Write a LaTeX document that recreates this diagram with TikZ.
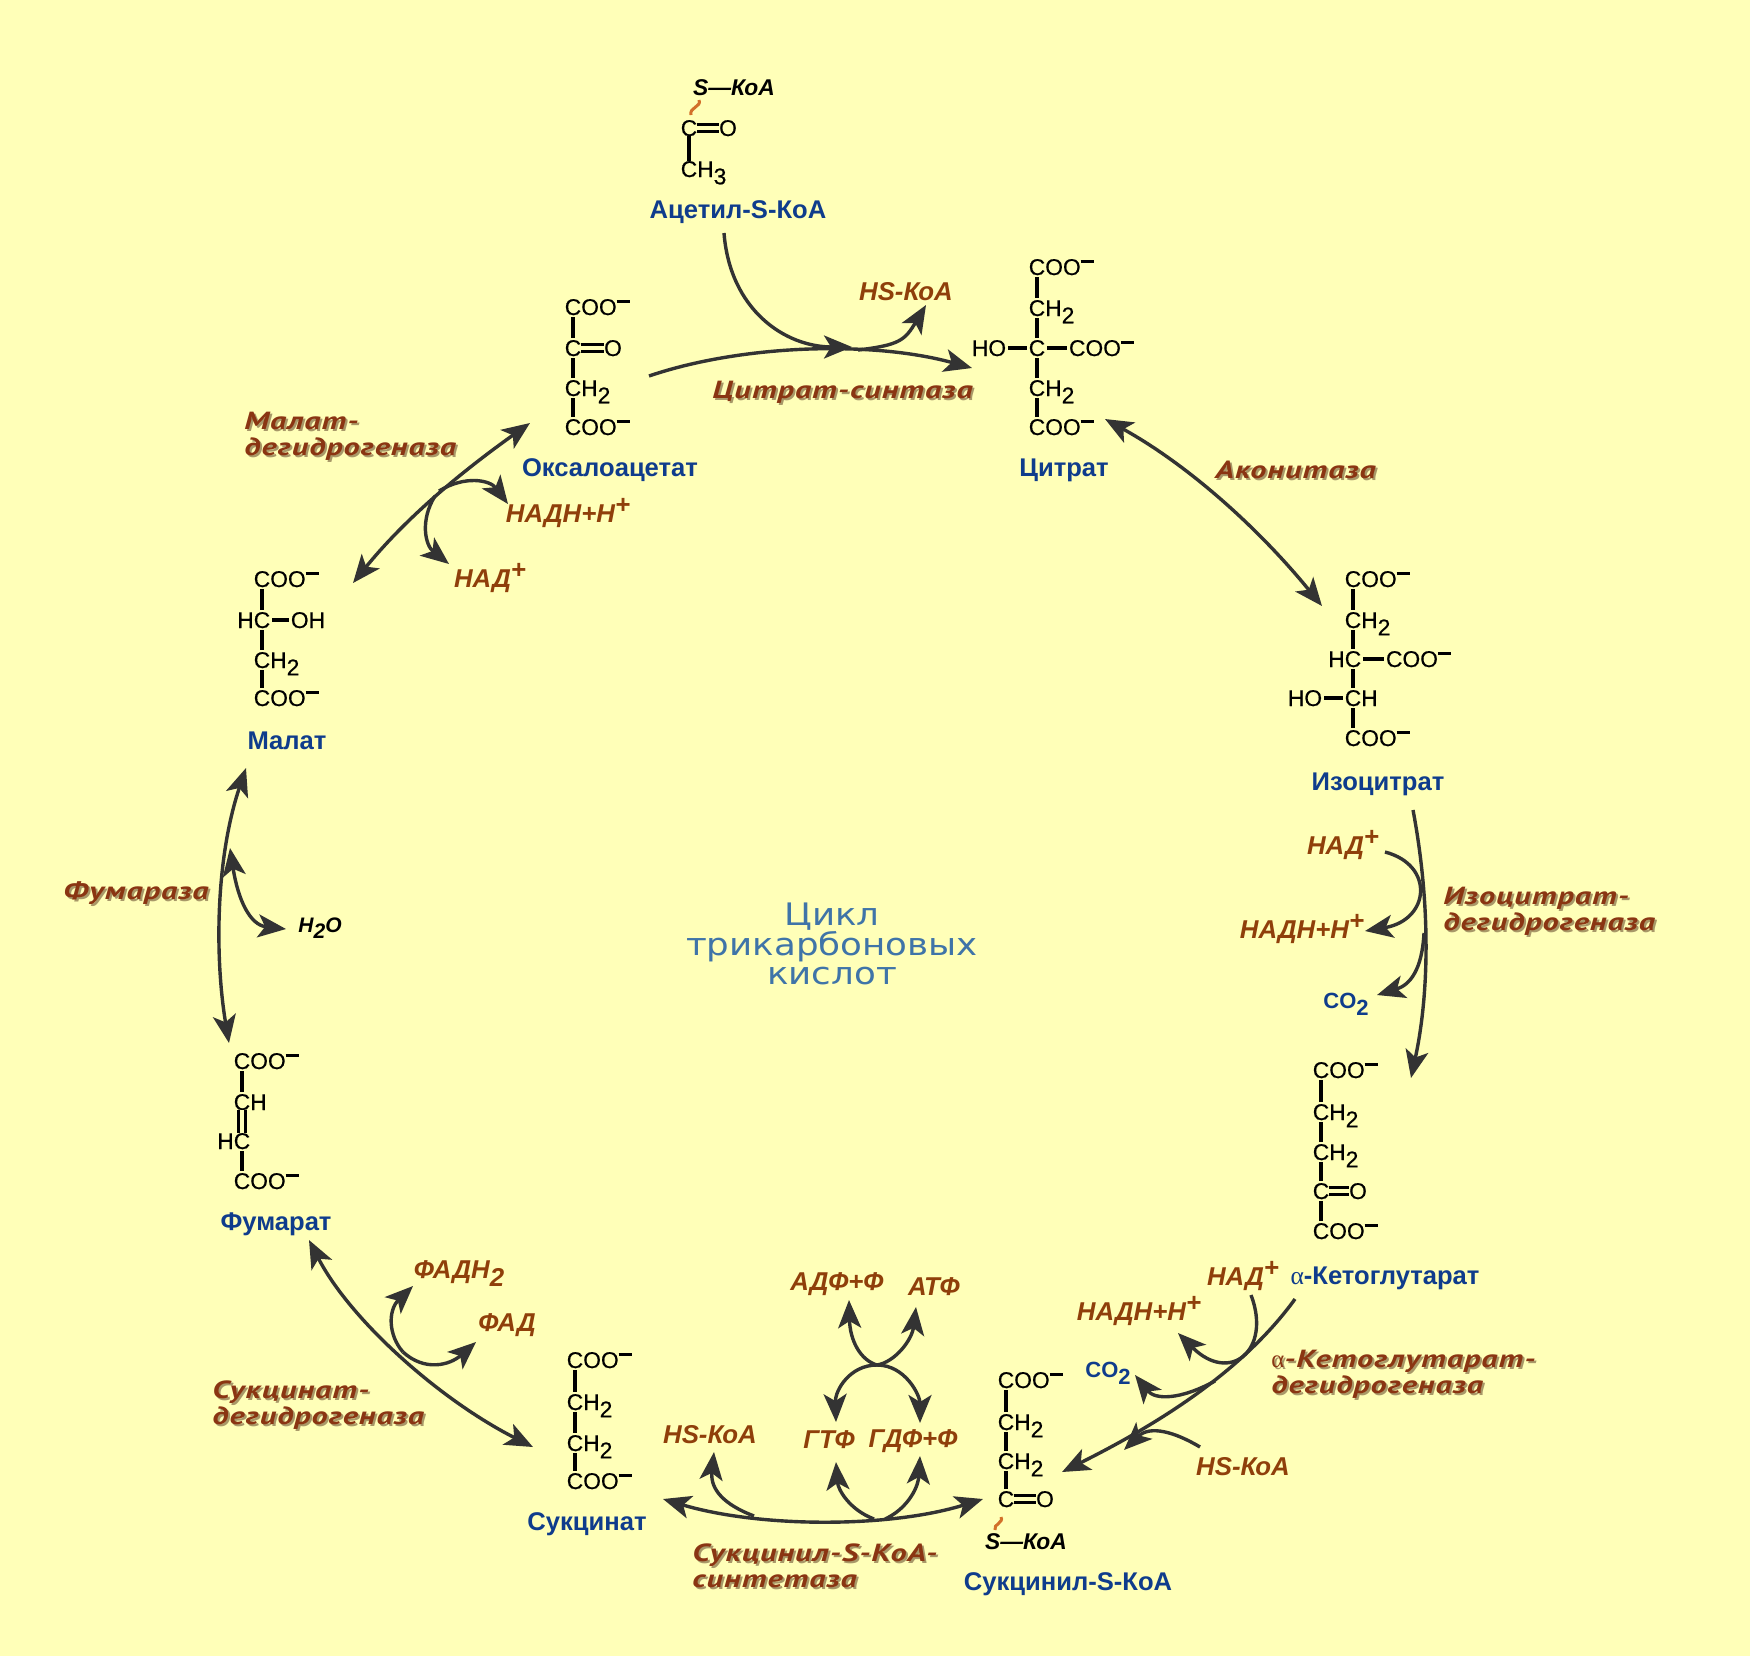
\documentclass[tikz,border=0pt]{standalone}
\usepackage{fontspec}
\usetikzlibrary{arrows.meta}
\setmainfont{Liberation Sans}
\newfontfamily\enzfont[FakeStretch=1.3,LetterSpace=4]{PT Sans}
\newfontfamily\greekfont{Liberation Serif}
\newfontfamily\cyclefont[FakeStretch=1.15]{DejaVu Sans}
\newfontfamily\chemfont[FakeBold=0.5]{Liberation Sans}
\definecolor{bgyellow}{HTML}{FFFFB8}
\definecolor{namblue}{HTML}{0F3C8C}
\definecolor{cofbrown}{HTML}{8F3F0A}
\definecolor{enzbrown}{HTML}{8A3512}
\definecolor{enzshade}{HTML}{A89868}
\definecolor{arrgray}{HTML}{333333}
\definecolor{cycleblue}{HTML}{3F74A8}
\definecolor{squigorange}{HTML}{D2702A}
\newcommand{\chemsub}[1]{\raisebox{-.32em}[0pt][0pt]{#1}}
\newcommand{\chemneg}{\raisebox{.54em}[0pt][0pt]{\rule{.58em}{.11em}}}
\newcommand{\splus}{\raisebox{.36em}[0pt][0pt]{\bfseries +}}
\newcommand{\coo}{C\rlap{OO\chemneg}}
\newcommand{\chtwo}{C\rlap{H\chemsub{2}}}
\newcommand{\enzlabel}[3]{%
  \node[enzyme,text=enzshade] (#1s) at ([shift={(2,2)}]#2) {#3};
  \node[enzyme] (#1) at (#2) {#3};}
\tikzset{
  atom/.style={font=\fontsize{11.4}{11.4}\selectfont\chemfont, inner sep=0pt, outer sep=0pt, text height=8pt, text depth=0pt},
  bond/.style={line width=1.7pt, black},
  dbond/.style={line width=1.4pt, black, double=bgyellow, double distance=2.4pt},
  squig/.style={line width=1.5pt, squigorange},
  coa/.style={font=\fontsize{11.4}{11.4}\selectfont\bfseries\itshape, inner sep=0pt},
  compound/.style={font=\fontsize{12.8}{12.8}\selectfont\bfseries, text=namblue, inner sep=0pt},
  cof/.style={font=\fontsize{12.9}{12.9}\selectfont\bfseries\itshape, text=cofbrown, inner sep=0pt},
  gas/.style={font=\fontsize{11}{11}\selectfont\bfseries, text=namblue, inner sep=0pt},
  enzyme/.style={font=\fontsize{12.4}{13}\selectfont\enzfont\bfseries\itshape, text=enzbrown, inner sep=0pt, anchor=west, align=left},
  arr/.style={line width=1.7pt, arrgray, -{Stealth[length=14pt,width=11.5pt,inset=3.5pt]}},
  biarr/.style={arr, {Stealth[length=14pt,width=11.5pt,inset=3.5pt]}-{Stealth[length=14pt,width=11.5pt,inset=3.5pt]}}
}
\begin{document}
\begin{tikzpicture}[x=0.5pt,y=-0.5pt]
\useasboundingbox (0,0) rectangle (1750,1656);
% Background
\fill[bgyellow] (0,0) rectangle (1750,1656);

% Acetyl-S-CoA
\node[coa] (acs) at (734,88) {S---КоА};
\node[atom] (ac1) at (689,128) {C};
\node[atom] (aco) at (728,128) {O};
\node[atom] (ac2) at (689,169) {C\rlap{H\chemsub{3}}};
\node[compound] (acname) at (738,212) {Ацетил-S-КоА};
\coordinate (acq1) at (699,100);
\coordinate (acq2) at (691,115);
\draw[squig] (acq1) .. controls (702,107) and (689,107) .. (acq2);
\draw[dbond] (ac1) -- (aco);
\draw[bond] (ac1) -- (ac2);

% Citrate
\node[atom] (ci1) at (1037,267) {\coo};
\node[atom] (ci2) at (1037,308) {\chtwo};
\node[atom] (ci3) at (1037,348) {C};
\node[atom] (ci4) at (1037,388) {\chtwo};
\node[atom] (ci5) at (1037,427) {\coo};
\node[atom] (ciho) at (989,348) {HO};
\node[atom,anchor=west] (cicoo) at (1069,348) {COO\chemneg};
\node[compound] (ciname) at (1064,470) {Цитрат};

% Oxaloacetate
\node[atom] (ox1) at (573,307) {\coo};
\node[atom] (ox2) at (573,348) {C};
\node[atom] (oxo) at (613,348) {O};
\node[atom] (ox3) at (573,388) {\chtwo};
\node[atom] (ox4) at (573,427) {\coo};
\node[compound] (oxname) at (610,470) {Оксалоацетат};
\draw[dbond] (ox2) -- (oxo);

% Isocitrate
\node[atom] (is1) at (1353,579) {\coo};
\node[atom] (is2) at (1353,620) {\chtwo};
\node[atom] (is3) at (1353,659) {\llap{H}C};
\node[atom] (is4) at (1353,698) {C\rlap{H}};
\node[atom] (is5) at (1353,738) {\coo};
\node[atom] (isho) at (1305,698) {HO};
\node[atom,anchor=west] (iscoo) at (1386,659) {COO\chemneg};
\node[compound] (isname) at (1378,784) {Изоцитрат};

% alpha-Ketoglutarate
\node[atom] (kg1) at (1321,1070) {\coo};
\node[atom] (kg2) at (1321,1112) {\chtwo};
\node[atom] (kg3) at (1321,1152) {\chtwo};
\node[atom] (kg4) at (1321,1191) {C};
\node[atom] (kgo) at (1358,1191) {O};
\node[atom] (kg5) at (1321,1231) {\coo};
\node[compound] (kgname) at (1385,1278) {{\greekfont\mdseries α}-Кетоглутарат};
\draw[dbond] (kg4) -- (kgo);

% Succinyl-S-CoA
\node[atom] (sc1) at (1006,1380) {\coo};
\node[atom] (sc2) at (1006,1422) {\chtwo};
\node[atom] (sc3) at (1006,1461) {\chtwo};
\node[atom] (sc4) at (1006,1499) {C};
\node[atom] (sco) at (1045,1499) {O};
\node[coa] (scs) at (1026,1542) {S---КоА};
\node[compound] (scname) at (1068,1584) {Сукцинил-S-КоА};
\coordinate (scq1) at (1001,1517);
\coordinate (scq2) at (995,1530);
\draw[squig] (scq1) .. controls (1004,1523) and (993,1524) .. (scq2);
\draw[dbond] (sc4) -- (sco);

% Succinate
\node[atom] (su1) at (575,1360) {\coo};
\node[atom] (su2) at (575,1402) {\chtwo};
\node[atom] (su3) at (575,1443) {\chtwo};
\node[atom] (su4) at (575,1481) {\coo};
\node[compound] (suname) at (587,1524) {Сукцинат};

% Fumarate
\node[atom] (fu1) at (242,1061) {\coo};
\node[atom] (fu2) at (242,1102) {C\rlap{H}};
\node[atom] (fu3) at (242,1141) {\llap{H}C};
\node[atom] (fu4) at (242,1181) {\coo};
\node[compound] (funame) at (276,1224) {Фумарат};
\draw[dbond] (fu2) -- (fu3);

% Malate
\node[atom] (ma1) at (262,579) {\coo};
\node[atom] (ma2) at (262,620) {\llap{H}C};
\node[atom] (ma3) at (262,660) {\chtwo};
\node[atom] (ma4) at (262,698) {\coo};
\node[atom] (maoh) at (308,620) {OH};
\node[compound] (maname) at (287,741) {Малат};

% Single bonds
\foreach \a/\b in {ci1/ci2,ci2/ci3,ci3/ci4,ci4/ci5,ciho/ci3,ci3/cicoo,
  ox1/ox2,ox2/ox3,ox3/ox4,is1/is2,is2/is3,is3/is4,is4/is5,isho/is4,is3/iscoo,
  kg1/kg2,kg2/kg3,kg3/kg4,kg4/kg5,sc1/sc2,sc2/sc3,sc3/sc4,
  su1/su2,su2/su3,su3/su4,fu1/fu2,fu3/fu4,ma1/ma2,ma2/ma3,ma3/ma4,ma2/maoh}
  \draw[bond,shorten <=1pt,shorten >=1pt] (\a) -- (\b);

% Cofactors
\node[cof] (hsa) at (906,292) {HS-КоА};
\node[cof] (nadis) at (1343,848) {НАД\splus};
\node[cof] (nadhis) at (1302,932) {НАДН+Н\splus};
\node[gas] (cois) at (1346,1001) {CO\chemsub{2}};
\node[cof] (nadkg) at (1243,1279) {НАД\splus};
\node[cof] (nadhkg) at (1139,1314) {НАДН+Н\splus};
\node[gas] (cokg) at (1108,1370) {CO\chemsub{2}};
\node[cof] (hskg) at (1243,1467) {HS-КоА};
\node[cof] (adp) at (837,1284) {АДФ+Ф};
\node[cof] (atp) at (934,1287) {АТФ};
\node[cof] (gtp) at (829,1440) {ГТФ};
\node[cof] (gdp) at (913,1441) {ГДФ+Ф};
\node[cof] (hssu) at (710,1435) {HS-КоА};
\node[cof] (fadh) at (459,1272) {ФАДН\chemsub{2}};
\node[cof] (fad) at (507,1325) {ФАД};
\node[cof,text=black,font=\fontsize{10.5}{10.5}\selectfont\bfseries\itshape] (water) at (320,925) {H\chemsub{2}O};
\node[cof] (nadhma) at (568,516) {НАДН+Н\splus};
\node[cof] (nadma) at (490,581) {НАД\splus};

% Enzymes
\enzlabel{encs}{712,392}{Цитрат-синтаза}
\enzlabel{enac}{1215,470}{Аконитаза}
\enzlabel{enis}{1443,911}{Изоцитрат-\\дегидрогеназа}
\enzlabel{enkg}{1271,1374}{{\greekfont\mdseries\upshape α}-Кетоглутарат-\\дегидрогеназа}
\enzlabel{enst}{692,1566}{Сукцинил-S-КоА-\\синтетаза}
\enzlabel{ensd}{212,1405}{Сукцинат-\\дегидрогеназа}
\enzlabel{enfu}{63,893}{Фумараза}
\enzlabel{enma}{244,436}{Малат-\\дегидрогеназа}

% Cycle title
\node[font=\cyclefont\fontsize{15.5}{14.8}\selectfont, text=cycleblue, align=center, inner sep=0pt] (title) at (832,944) {Цикл\\трикарбоновых\\кислот};

% Arrow ends
\foreach \n/\x/\y in {csa/724/233,csb/852/347,csc/649/376,csd/972/368,cse/858/350,csf/926/305,
  aca/1105/419,acb/1322/606,
  isa/1413/810,isb/1411/1078,isc/1385/852,isd/1365/931,ise/1424/933,isf/1377/995,
  kga/1295/1299,kgb/1062/1472,kgc/1251/1295,kgd/1178/1333,kge/1215/1381,kgf/1135/1375,kgg/1200/1447,kgh/1124/1450,
  sta/663/1499,stb/983/1499,stc/754/1516,std/714/1452,ste/874/1519,stf/836/1462,stg/885/1519,sth/920/1456,
  xm/877/1365,xa/849/1300,xb/916/1307,xc/836/1422,xd/920/1423,
  sda/309/1240,sdb/533/1447,sdc/403/1352,sdd/413/1286,sde/476/1342,
  fua/246/768,fub/229/1043,fuc/230/848,fud/286/929,
  mda/530/423,mdb/353/583,mdc/439/491,mdd/508/504,mde/435/496,mdf/449/564}
  \coordinate (\n) at (\x,\y);

% Citrate synthase
\draw[arr] (csa) .. controls (730,310) and (785,347) .. (csb);
\draw[arr] (csc) .. controls (740,345) and (870,340) .. (csd);
\draw[arr] (cse) .. controls (900,345) and (905,340) .. (csf);

% Aconitase
\draw[biarr] (aca) .. controls (1190,466) and (1260,530) .. (acb);

% Isocitrate dehydrogenase
\draw[arr] (isa) .. controls (1430,900) and (1430,990) .. (isb);
\draw[arr] (isc) .. controls (1435,865) and (1430,920) .. (isd);
\draw[arr] (ise) .. controls (1422,970) and (1410,985) .. (isf);

% alpha-Ketoglutarate dehydrogenase
\draw[arr] (kga) .. controls (1240,1375) and (1150,1428) .. (kgb);
\draw[arr] (kgc) .. controls (1272,1350) and (1230,1385) .. (kgd);
\draw[arr] (kge) .. controls (1180,1400) and (1155,1400) .. (kgf);
\draw[arr] (kgg) .. controls (1175,1432) and (1150,1425) .. (kgh);

% Succinyl-S-CoA synthetase
\draw[biarr] (sta) .. controls (760,1528) and (890,1528) .. (stb);
\draw[arr] (stc) .. controls (725,1505) and (710,1490) .. (std);
\draw[arr] (ste) .. controls (850,1510) and (838,1490) .. (stf);
\draw[arr] (stg) .. controls (905,1510) and (918,1490) .. (sth);
\draw[arr] (xm) .. controls (860,1360) and (850,1340) .. (xa);
\draw[arr] (xm) .. controls (895,1362) and (912,1340) .. (xb);
\draw[arr] (xm) .. controls (850,1365) and (835,1390) .. (xc);
\draw[arr] (xm) .. controls (905,1365) and (920,1395) .. (xd);

% Succinate dehydrogenase
\draw[biarr] (sda) .. controls (350,1320) and (440,1400) .. (sdb);
\draw[arr] (sdc) .. controls (388,1335) and (388,1310) .. (sdd);
\draw[arr] (sdc) .. controls (425,1372) and (450,1365) .. (sde);

% Fumarase
\draw[biarr] (fua) .. controls (215,860) and (215,960) .. (fub);
\draw[biarr] (fuc) .. controls (238,900) and (250,925) .. (fud);

% Malate dehydrogenase
\draw[biarr] (mda) .. controls (450,480) and (400,525) .. (mdb);
\draw[arr] (mdc) .. controls (465,475) and (490,480) .. (mdd);
\draw[arr] (mde) .. controls (420,520) and (425,545) .. (mdf);
\end{tikzpicture}
\end{document}
